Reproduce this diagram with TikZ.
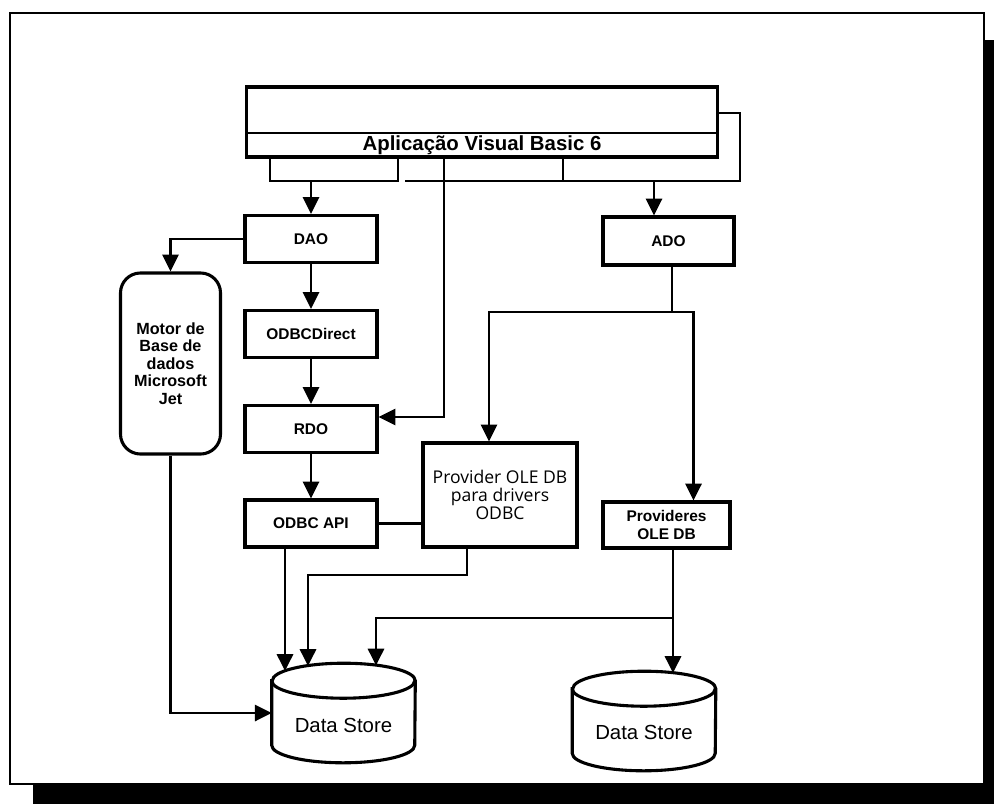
\documentclass[tikz,border=0pt]{standalone}
\usepackage{fontspec}
\setmainfont{Liberation Sans}
\newfontfamily\provfont{Open Sans}
\usepackage{tikz}
\usetikzlibrary{arrows.meta,positioning,calc}

% 圆柱形数据存储
\newcommand{\datastore}[1]{%
    \draw[line width=2.2pt, fill=white] ([yshift=-0.4375cm]#1.north west) -- ([yshift=0.4375cm]#1.south west)
        arc[start angle=180, end angle=360, x radius=1.7875cm, y radius=0.4375cm]
        -- ([yshift=-0.4375cm]#1.north east)
        arc[start angle=0, end angle=180, x radius=1.7875cm, y radius=0.4375cm] -- cycle;
    \draw[line width=2.2pt] ([yshift=-0.4375cm]#1.north west)
        arc[start angle=180, end angle=360, x radius=1.7875cm, y radius=0.4375cm];
}

\begin{document}
\begin{tikzpicture}[x=0.025cm, y=-0.025cm,
    box/.style={draw, line width=2.2pt, minimum width=3.3cm, minimum height=1.175cm, inner sep=0pt,
        align=center, font=\fontsize{11}{13}\selectfont\bfseries},
    wire/.style={line width=2.1pt},
    wirearr/.style={wire, -{Triangle[length=0.42cm, width=0.4cm]}},
    store/.style={minimum width=3.575cm, minimum height=2.475cm, inner sep=0pt},
    storetext/.style={font=\fontsize{14.5}{17}\selectfont}]
    \useasboundingbox (0,0) rectangle (994,804);

    % 外框和阴影
    \fill (33,40) rectangle (994,804);
    \draw[line width=2pt, fill=white] (10,13) rectangle (984,784);

    % 应用程序
    \node[box, minimum width=11.75cm, minimum height=1.75cm] (app) at (482,122) {};
    \draw[wire] (app.west |- 0,133) -- (app.east |- 0,133);
    \node[font=\fontsize{14.5}{17}\selectfont\bfseries] (apptitle) at (482,145.5) {Aplicação Visual Basic 6};

    % 左列
    \node[box] (dao) at (311,239) {DAO};
    \node[box] (odbcd) at (311,334) {ODBCDirect};
    \node[box] (rdo) at (311,429) {RDO};
    \node[box] (odbcapi) at (311,523.5) {ODBC API};
    \node[box, minimum width=2.5cm, minimum height=4.525cm, rounded corners=0.5cm,
        font=\fontsize{11.5}{12.5}\selectfont\bfseries] (motor) at (170.5,363.5) {Motor de\\Base de\\dados\\Microsoft\\Jet};

    % 右列
    \node[box, minimum width=3.275cm, minimum height=1.2cm] (ado) at (668.5,241) {ADO};
    \node[box, minimum width=3.85cm, minimum height=2.6cm,
        font=\provfont\fontsize{12.5}{12.8}\selectfont] (provider) at (500,495) {Provider OLE DB\\para drivers\\ODBC};
    \node[box, minimum width=3.175cm, minimum height=1.15cm,
        font=\fontsize{11}{12.8}\selectfont\bfseries] (providers) at (666.5,525) {Provideres\\OLE DB};

    % 数据存储
    \node[store] (ds1) at (343.5,713) {};
    \node[store] (ds2) at (644,721) {};
    \datastore{ds1}
    \datastore{ds2}
    \node[storetext] (ds1text) at (343.5,725) {Data Store};
    \node[storetext] (ds2text) at (644,732) {Data Store};
    \coordinate (ds1in1) at (285,671);
    \coordinate (ds1in2) at (308,666);
    \coordinate (ds1in3) at (376,665.5);
    \coordinate (ds2in) at (673,673);

    % 连接线
    \draw[wire] (app.south -| 270,0) |- (398,181) -- (app.south -| 398,0);
    \draw[wirearr] (dao.north |- 0,181) -- (dao.north);
    \draw[wire] (app.south -| 563,0) |- (405,181);
    \draw[wire] (app.south -| 563,0) |- (740,181) |- (app.east |- 0,113);
    \draw[wirearr] (654,181) -- (ado.north -| 654,0);
    \draw[wirearr] (app.south -| 444,0) |- ([yshift=0.3cm]rdo.east);
    \draw[wirearr] (dao.west) -| (motor.north);
    \draw[wirearr] (dao.south) -- (odbcd.north);
    \draw[wirearr] (odbcd.south) -- (rdo.north);
    \draw[wirearr] (rdo.south) -- (odbcapi.north);
    \draw[wire] (odbcapi.east) -- (provider.west |- odbcapi.east);
    \draw[wire] (ado.south -| 672,0) -- (672,312) coordinate (adoj);
    \draw[wirearr] (adoj) -| ([xshift=-0.275cm]provider.north);
    \draw[wirearr] (adoj) -| ([xshift=0.675cm]providers.north);
    \draw[wirearr] (odbcapi.south -| ds1in1) -- (ds1in1);
    \draw[wirearr] ([xshift=-0.825cm]provider.south) |- (ds1in2 |- 0,575) -- (ds1in2);
    \draw[wirearr] (providers.south -| ds2in) -- (ds2in);
    \draw[wirearr] (ds2in |- 0,618) -| (ds1in3);
    \draw[wirearr] (motor.south) |- (ds1.west);
\end{tikzpicture}
\end{document}
